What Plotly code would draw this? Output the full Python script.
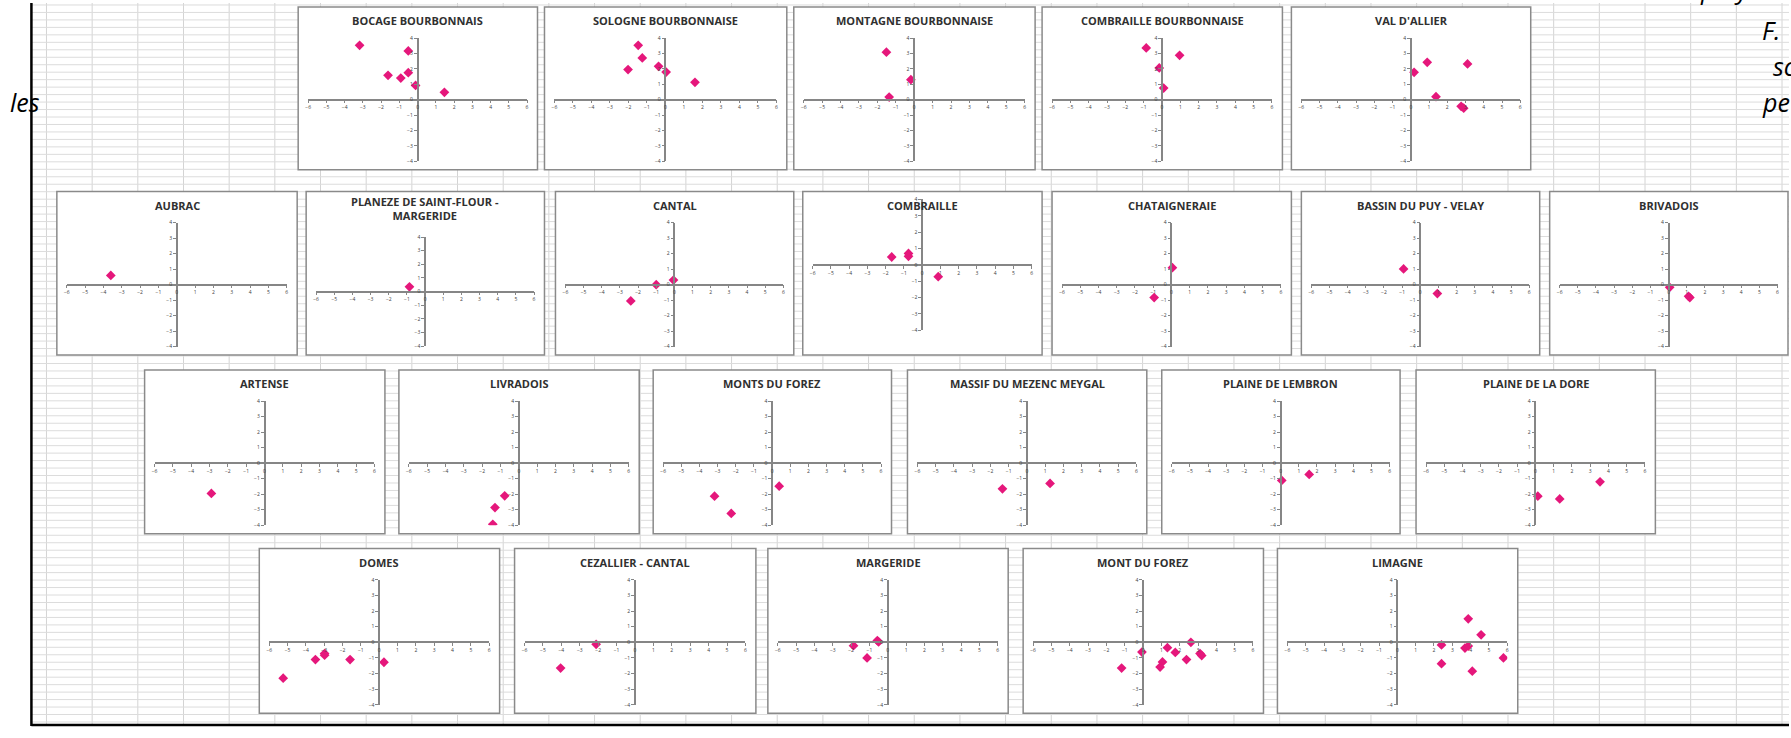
import plotly.graph_objects as go

W, H = 1791, 738

# ---------------- data ----------------
NAMES = [
    "BOCAGE BOURBONNAIS", "SOLOGNE BOURBONNAISE", "MONTAGNE BOURBONNAISE",
    "COMBRAILLE BOURBONNAISE", "VAL D'ALLIER",
    "AUBRAC", "PLANEZE DE SAINT-FLOUR -<br>MARGERIDE", "CANTAL", "COMBRAILLE",
    "CHATAIGNERAIE", "BASSIN DU PUY - VELAY", "BRIVADOIS",
    "ARTENSE", "LIVRADOIS", "MONTS DU FOREZ", "MASSIF DU MEZENC MEYGAL",
    "PLAINE DE LEMBRON", "PLAINE DE LA DORE",
    "DOMES", "CEZALLIER - CANTAL", "MARGERIDE", "MONT DU FOREZ", "LIMAGNE",
]

BOCAGE_X = [-3.18, -0.51, -1.62, -0.92, -0.51, -0.11, 1.47]
BOCAGE_Y = [3.54, 3.17, 1.59, 1.41, 1.76, 0.93, 0.48]
SOLOGNE_X = [-1.47, -1.25, -2.02, -0.37, 0.04, 1.60]
SOLOGNE_Y = [3.54, 2.72, 1.96, 2.17, 1.80, 1.13]
MONTAGNE_X = [-1.51, -0.18, -1.36]
MONTAGNE_Y = [3.09, 1.30, 0.17]
COMBRB_X = [-0.86, 0.96, -0.15, 0.09]
COMBRB_Y = [3.37, 2.89, 2.07, 0.76]
VAL_X = [0.18, 0.90, 3.11, 1.38, 2.76, 2.90]
VAL_Y = [1.78, 2.43, 2.33, 0.20, -0.43, -0.55]
AUBRAC_X = [-3.6]
AUBRAC_Y = [0.6]
PLANEZE_X = [-0.86]
PLANEZE_Y = [0.35]
CANTAL_X = [-2.4, -1.0, -0.05]
CANTAL_Y = [-1.05, 0.0, 0.3]
COMBRAILLE_X = [-1.67, -0.75, -0.75, 0.88]
COMBRAILLE_Y = [0.48, 0.70, 0.52, -0.72]
CHAT_X = [0.05, -0.95]
CHAT_Y = [1.1, -0.83]
BASSIN_X = [-0.92, 0.94]
BASSIN_Y = [1.02, -0.57]
BRIV_X = [0.06, 1.10, 1.17]
BRIV_Y = [-0.17, -0.75, -0.83]
ARTENSE_X = [-2.9]
ARTENSE_Y = [-1.95]
LIVRADOIS_X = [-0.77, -1.30, -1.42]
LIVRADOIS_Y = [-2.10, -2.86, -3.94]
MONTS_X = [-3.17, -2.25, 0.39]
MONTS_Y = [-2.13, -3.24, -1.48]
MASSIF_X = [-1.34, 1.27]
MASSIF_Y = [-1.65, -1.30]
LEMBRON_X = [0.06, 1.57]
LEMBRON_Y = [-1.11, -0.72]
DORE_X = [0.13, 1.33, 3.54]
DORE_Y = [-2.13, -2.30, -1.20]
DOMES_X = [-5.24, -3.48, -2.98, -2.98, -1.59, 0.26]
DOMES_Y = [-2.30, -1.11, -0.83, -0.72, -1.11, -1.28]
CEZ_X = [-4.04, -2.11]
CEZ_Y = [-1.65, -0.13]
MARG_X = [-1.87, -1.13, -0.57, -0.50]
MARG_Y = [-0.22, -1.00, 0.11, 0.02]
MDF_X = [-1.17, -0.06, 1.06, 0.93, 1.33, 1.76, 2.37, 2.61, 3.11, 3.20]
MDF_Y = [-1.65, -0.63, -1.26, -1.59, -0.35, -0.65, -1.11, 0.0, -0.72, -0.85]
LIMAGNE_X = [2.41, 2.41, 3.69, 3.87, 3.87, 4.57, 4.09, 5.79]
LIMAGNE_Y = [-0.17, -1.37, -0.37, -0.24, 1.50, 0.48, -1.85, -1.00]

SERIES_X = [BOCAGE_X, SOLOGNE_X, MONTAGNE_X, COMBRB_X, VAL_X,
            AUBRAC_X, PLANEZE_X, CANTAL_X, COMBRAILLE_X, CHAT_X, BASSIN_X, BRIV_X,
            ARTENSE_X, LIVRADOIS_X, MONTS_X, MASSIF_X, LEMBRON_X, DORE_X,
            DOMES_X, CEZ_X, MARG_X, MDF_X, LIMAGNE_X]
SERIES_Y = [BOCAGE_Y, SOLOGNE_Y, MONTAGNE_Y, COMBRB_Y, VAL_Y,
            AUBRAC_Y, PLANEZE_Y, CANTAL_Y, COMBRAILLE_Y, CHAT_Y, BASSIN_Y, BRIV_Y,
            ARTENSE_Y, LIVRADOIS_Y, MONTS_Y, MASSIF_Y, LEMBRON_Y, DORE_Y,
            DOMES_Y, CEZ_Y, MARG_Y, MDF_Y, LIMAGNE_Y]

X_TICKS = [-6, -5, -4, -3, -2, -1, 0, 1, 2, 3, 4, 5, 6]
Y_TICKS = [-4, -3, -2, -1, 0, 1, 2, 3, 4]

# ---------------- layout (pixel boxes of each small chart) ----------------
ROWS_V = [(4, 168), (190, 355), (370, 535), (550, 716)]
ROW_BOXES = [
    [(296, 536), (543, 786), (793, 1035), (1042, 1283), (1292, 1532)],
    [(54, 295), (304, 543), (554, 793), (802, 1042), (1052, 1292), (1302, 1541), (1551, 1790)],
    [(142, 383), (397, 638), (652, 891), (907, 1147), (1162, 1401), (1417, 1657)],
    [(257, 498), (513, 755), (767, 1008), (1023, 1264), (1278, 1519)],
]
SPECIAL_INSETS = {6: (46, 9), 8: (8, 25)}  # index -> (top, bottom)

BOXES = []
for (t, b), row in zip(ROWS_V, ROW_BOXES):
    for (l, r) in row:
        BOXES.append((l, t, r, b))


def px(x):
    return x / W


def py(y):
    return 1 - y / H


fig = go.Figure()
shapes = []
annotations = []

# spreadsheet gridlines
x = 43.6
while x < W:
    shapes.append(dict(type="line", xref="paper", yref="paper", layer="below",
                       x0=px(x), x1=px(x), y0=py(0), y1=py(728),
                       line=dict(color="#d4d4d4", width=1)))
    x += 45.8
y = 2.0
while y < 728:
    shapes.append(dict(type="line", xref="paper", yref="paper", layer="below",
                       x0=px(29), x1=1, y0=py(y), y1=py(y),
                       line=dict(color="#dcdcdc", width=1)))
    y += 7.53

# black border of the embedded sheet
shapes.append(dict(type="line", xref="paper", yref="paper", layer="below",
                   x0=px(28.5), x1=px(28.5), y0=py(0), y1=py(729),
                   line=dict(color="black", width=2.5)))
shapes.append(dict(type="line", xref="paper", yref="paper", layer="below",
                   x0=px(28.5), x1=1, y0=py(728), y1=py(728),
                   line=dict(color="black", width=2.5)))

AX = "#868686"
MARK = "#E5177B"
XMIN, XMAX, YMIN, YMAX = -6, 6, -4, 4

for i, (name, xs, ys, box) in enumerate(zip(NAMES, SERIES_X, SERIES_Y, BOXES)):
    l, t, r, b = box
    shapes.append(dict(type="rect", xref="paper", yref="paper", layer="below",
                       x0=px(l), x1=px(r), y0=py(b), y1=py(t),
                       fillcolor="white", line=dict(color="#8a8a8a", width=1.5)))
    it, ib = SPECIAL_INSETS.get(i, (31.5, 8.5))
    x0p, x1p = l + 10, r - 10.5
    y0p, y1p = t + it, b - ib
    zx = x0p + (0 - XMIN) / (XMAX - XMIN) * (x1p - x0p)
    zy = y0p + (YMAX - 0) / (YMAX - YMIN) * (y1p - y0p)
    k = "" if i == 0 else str(i + 1)
    fig.add_trace(go.Scatter(
        x=xs, y=ys, mode="markers", xaxis="x" + k, yaxis="y" + k,
        marker=dict(symbol="diamond", size=7.5, color=MARK),
        showlegend=False, hoverinfo="x+y"))
    common = dict(showline=True, linecolor=AX, linewidth=1.5, ticks="outside",
                  ticklen=3, tickwidth=1, tickcolor=AX, showgrid=False,
                  zeroline=False, tickfont=dict(family="Open Sans", size=5, color="#404040"),
                  fixedrange=True, anchor="free")
    fig.layout["xaxis" + k] = dict(common, domain=[px(x0p), px(x1p)],
                                   range=[XMIN, XMAX], tickvals=X_TICKS,
                                   position=py(zy))
    fig.layout["yaxis" + k] = dict(common, domain=[py(y1p), py(y0p)],
                                   range=[YMIN, YMAX], tickvals=Y_TICKS,
                                   position=px(zx))
    ty = t + 17 if i == 6 else t + 14
    annotations.append(dict(xref="paper", yref="paper", x=px((l + r) / 2), y=py(ty),
                            text="<b>" + name + "</b>", showarrow=False,
                            xanchor="center", yanchor="middle",
                            font=dict(family="Open Sans", size=11, color="#303030")))

# cut-off italic text around the sheet
TXT = dict(family="Open Sans", size=25, color="black")
for txt, xx, yy in [("<i>F.</i>", 1762, 27), ("<i>sc</i>", 1773, 64),
                    ("<i>pe</i>", 1762, 100), ("<i>les</i>", 5, 100),
                    ("<i>p</i>", 1700, -14), ("<i>y</i>", 1734, -14)]:
    annotations.append(dict(xref="paper", yref="paper", x=px(xx), y=py(yy),
                            text=txt, showarrow=False, xanchor="left",
                            yanchor="middle", font=TXT))

fig.update_layout(width=W, height=H, margin=dict(l=0, r=0, t=0, b=0),
                  paper_bgcolor="white", plot_bgcolor="rgba(0,0,0,0)",
                  shapes=shapes, annotations=annotations, showlegend=False)

fig.write_html("out.html", config={"displayModeBar": False},
               post_script="document.body.style.margin='0';")
